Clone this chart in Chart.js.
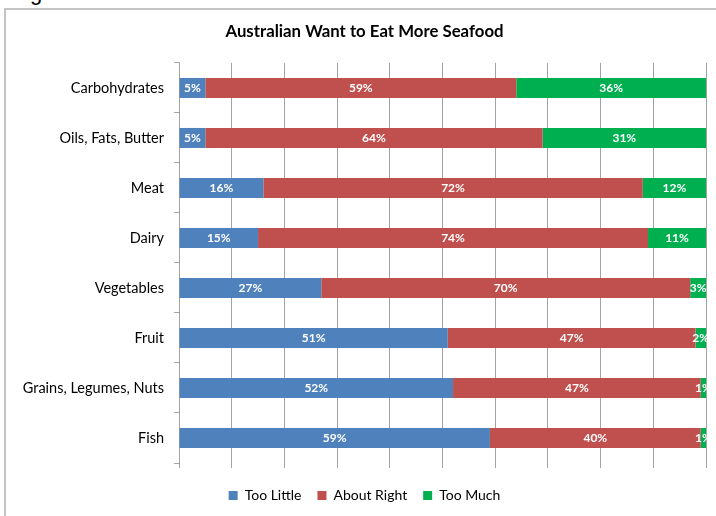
<!DOCTYPE html>
<html><head><meta charset="utf-8">
<script src="https://cdn.jsdelivr.net/npm/chart.js@4/dist/chart.umd.min.js"></script>
<style>
html,body{margin:0;padding:0;background:#fff;width:716px;height:516px;overflow:hidden;}
#frame{position:absolute;left:4px;top:8px;width:800px;height:600px;border-left:2px solid #c4c4c4;border-top:2px solid #c4c4c4;}
#g{position:absolute;left:30px;top:-18px;font:22px "Liberation Sans",sans-serif;line-height:22px;color:#000;}
#wrap{position:absolute;left:0;top:0;width:716px;height:516px;}
</style></head><body>
<div id="g">g</div>
<div id="frame"></div>
<div id="wrap"><canvas id="c" width="716" height="516"></canvas></div>
<script>
const categories = ["Carbohydrates","Oils, Fats, Butter","Meat","Dairy","Vegetables","Fruit","Grains, Legumes, Nuts","Fish"];
const tooLittle  = [5, 5, 16, 15, 27, 51, 52, 59];
const aboutRight = [59, 64, 72, 74, 70, 47, 47, 40];
const tooMuch    = [36, 31, 12, 11, 3, 2, 1, 1];
const seriesNames = ["Too Little","About Right","Too Much"];
const seriesColors = ["#4F81BD","#C0504D","#00B050"];
const chartTitle = "Australian Want to Eat More Seafood";

const FONT = "Lato, 'Open Sans', sans-serif";
const GRID = "#a3a3a3";

const labelPlugin = {
  id: 'segLabels',
  afterDatasetsDraw(chart) {
    const ctx = chart.ctx, area = chart.chartArea;
    ctx.save();
    ctx.beginPath();
    ctx.rect(area.left, area.top, area.right - area.left + 2, area.bottom - area.top);
    ctx.clip();
    ctx.font = "bold 12px " + FONT;
    ctx.fillStyle = "#ffffff";
    ctx.textAlign = "center";
    ctx.textBaseline = "middle";
    chart.data.datasets.forEach((ds, di) => {
      const meta = chart.getDatasetMeta(di);
      meta.data.forEach((el, i) => {
        const v = ds.data[i];
        const cx = (el.x + el.base) / 2;
        ctx.fillText(v + "%", cx, el.y + 0.5);
      });
    });
    ctx.restore();
  }
};

new Chart(document.getElementById('c'), {
  type: 'bar',
  data: {
    labels: categories,
    datasets: [
      { label: seriesNames[0], data: tooLittle,  backgroundColor: seriesColors[0] },
      { label: seriesNames[1], data: aboutRight, backgroundColor: seriesColors[1] },
      { label: seriesNames[2], data: tooMuch,    backgroundColor: seriesColors[2] }
    ]
  },
  options: {
    indexAxis: 'y',
    responsive: false,
    animation: false,
    devicePixelRatio: 1,
    barPercentage: 0.4,
    categoryPercentage: 1.0,
    layout: { padding: { left: 23, right: 10, top: 0, bottom: 3.5 } },
    scales: {
      x: {
        stacked: true, min: 0, max: 100,
        ticks: { display: false, stepSize: 10 },
        grid: { color: GRID, lineWidth: 1, tickLength: 5, drawTicks: true },
        border: { display: false },
        afterFit(s) { s.height = 9.5; }
      },
      y: {
        stacked: true,
        ticks: { color: "#000", font: { family: FONT, size: 14.5 }, padding: 10 },
        grid: { drawOnChartArea: false, color: GRID, tickLength: 5, offset: true },
        border: { display: true, color: GRID, width: 1 },
        afterFit(s) { s.width = 156; }
      }
    },
    plugins: {
      title: {
        display: true, text: chartTitle, color: "#000",
        font: { family: FONT, size: 16.8, weight: 'bold' },
        padding: { top: 21.4, bottom: 21.4 }
      },
      legend: {
        position: 'bottom',
        labels: {
          color: "#000", font: { family: FONT, size: 14 },
          boxWidth: 9, boxHeight: 9, padding: 16
        }
      },
      tooltip: { enabled: false }
    }
  },
  plugins: [labelPlugin]
});
</script>
</body></html>
